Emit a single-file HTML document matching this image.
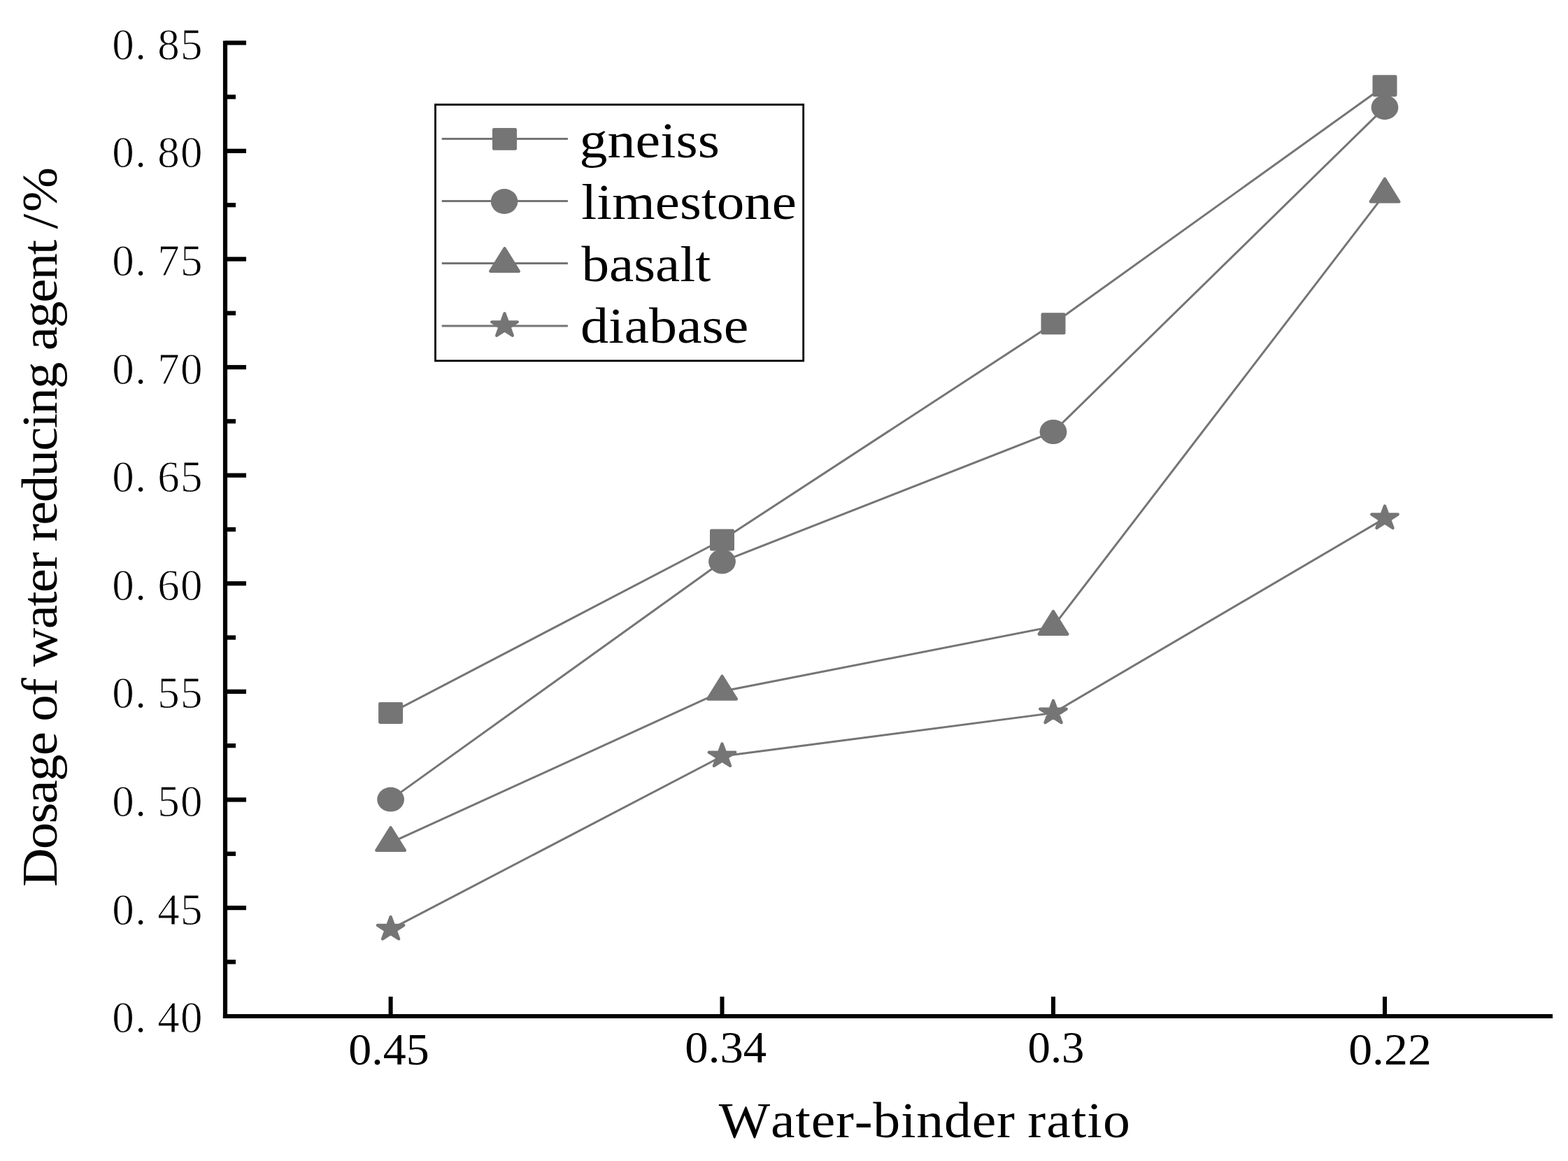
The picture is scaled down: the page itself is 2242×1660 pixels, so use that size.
<!DOCTYPE html>
<html><head><meta charset="utf-8"><title>Dosage of water reducing agent</title>
<style>
html,body{margin:0;padding:0;background:#fff;}
body{width:2242px;height:1660px;overflow:hidden;}
svg{display:block;}
text{font-family:"Liberation Serif",serif;fill:#000;font-kerning:none;}
</style></head><body>
<svg width="2242" height="1660" viewBox="0 0 2242 1660">
<rect width="2242" height="1660" fill="#fff"/>

<polyline points="558.60,1019.42 1032.50,772.06 1506.00,462.86 1980.00,122.74" fill="none" stroke="#757575" stroke-width="3"/>
<polyline points="558.60,1143.10 1032.50,802.98 1506.00,617.46 1980.00,153.66" fill="none" stroke="#757575" stroke-width="3"/>
<polyline points="558.60,1204.94 1032.50,988.50 1506.00,895.74 1980.00,277.34" fill="none" stroke="#757575" stroke-width="3"/>
<polyline points="558.60,1328.62 1032.50,1081.26 1506.00,1019.42 1980.00,741.14" fill="none" stroke="#757575" stroke-width="3"/>
<rect x="543.25" y="1006.07" width="30.70" height="26.70" fill="#757575" stroke="#757575" stroke-width="4.3" stroke-linejoin="round"/>
<rect x="1017.15" y="758.71" width="30.70" height="26.70" fill="#757575" stroke="#757575" stroke-width="4.3" stroke-linejoin="round"/>
<rect x="1490.65" y="449.51" width="30.70" height="26.70" fill="#757575" stroke="#757575" stroke-width="4.3" stroke-linejoin="round"/>
<rect x="1964.65" y="109.39" width="30.70" height="26.70" fill="#757575" stroke="#757575" stroke-width="4.3" stroke-linejoin="round"/>
<ellipse cx="558.60" cy="1143.10" rx="19.4" ry="17.5" fill="#757575"/>
<ellipse cx="1032.50" cy="802.98" rx="19.4" ry="17.5" fill="#757575"/>
<ellipse cx="1506.00" cy="617.46" rx="19.4" ry="17.5" fill="#757575"/>
<ellipse cx="1980.00" cy="153.66" rx="19.4" ry="17.5" fill="#757575"/>
<path d="M558.60 1183.29 L578.90 1215.94 L538.30 1215.94 Z" fill="#757575" stroke="#757575" stroke-width="4.3" stroke-linejoin="round"/>
<path d="M1032.50 966.85 L1052.80 999.50 L1012.20 999.50 Z" fill="#757575" stroke="#757575" stroke-width="4.3" stroke-linejoin="round"/>
<path d="M1506.00 874.09 L1526.30 906.74 L1485.70 906.74 Z" fill="#757575" stroke="#757575" stroke-width="4.3" stroke-linejoin="round"/>
<path d="M1980.00 255.69 L2000.30 288.34 L1959.70 288.34 Z" fill="#757575" stroke="#757575" stroke-width="4.3" stroke-linejoin="round"/>
<path d="M558.60 1310.92 L563.02 1322.94 L577.34 1322.94 L565.76 1330.37 L570.18 1342.40 L558.60 1334.97 L547.02 1342.40 L551.44 1330.37 L539.86 1322.94 L554.18 1322.94 Z" fill="#757575" stroke="#757575" stroke-width="4.3" stroke-linejoin="round"/>
<path d="M1032.50 1063.56 L1036.92 1075.58 L1051.24 1075.58 L1039.66 1083.01 L1044.08 1095.04 L1032.50 1087.61 L1020.92 1095.04 L1025.34 1083.01 L1013.76 1075.58 L1028.08 1075.58 Z" fill="#757575" stroke="#757575" stroke-width="4.3" stroke-linejoin="round"/>
<path d="M1506.00 1001.72 L1510.42 1013.74 L1524.74 1013.74 L1513.16 1021.17 L1517.58 1033.20 L1506.00 1025.77 L1494.42 1033.20 L1498.84 1021.17 L1487.26 1013.74 L1501.58 1013.74 Z" fill="#757575" stroke="#757575" stroke-width="4.3" stroke-linejoin="round"/>
<path d="M1980.00 723.44 L1984.42 735.46 L1998.74 735.46 L1987.16 742.89 L1991.58 754.92 L1980.00 747.49 L1968.42 754.92 L1972.84 742.89 L1961.26 735.46 L1975.58 735.46 Z" fill="#757575" stroke="#757575" stroke-width="4.3" stroke-linejoin="round"/>
<g fill="#000">
<rect x="318.90" y="58.3" width="6.2" height="1397.70"/>
<rect x="318.90" y="1450.00" width="1901.10" height="6"/>
<rect x="322.00" y="1372.20" width="15.00" height="6.3"/>
<rect x="322.00" y="1294.90" width="30.00" height="6.3"/>
<rect x="322.00" y="1217.60" width="15.00" height="6.3"/>
<rect x="322.00" y="1140.30" width="30.00" height="6.3"/>
<rect x="322.00" y="1063.00" width="15.00" height="6.3"/>
<rect x="322.00" y="985.70" width="30.00" height="6.3"/>
<rect x="322.00" y="908.40" width="15.00" height="6.3"/>
<rect x="322.00" y="831.10" width="30.00" height="6.3"/>
<rect x="322.00" y="753.80" width="15.00" height="6.3"/>
<rect x="322.00" y="676.50" width="30.00" height="6.3"/>
<rect x="322.00" y="599.20" width="15.00" height="6.3"/>
<rect x="322.00" y="521.90" width="30.00" height="6.3"/>
<rect x="322.00" y="444.60" width="15.00" height="6.3"/>
<rect x="322.00" y="367.30" width="30.00" height="6.3"/>
<rect x="322.00" y="290.00" width="15.00" height="6.3"/>
<rect x="322.00" y="212.70" width="30.00" height="6.3"/>
<rect x="322.00" y="135.40" width="15.00" height="6.3"/>
<rect x="322.00" y="58.10" width="30.00" height="6.3"/>
<rect x="555.60" y="1425" width="6" height="28.00"/>
<rect x="1029.50" y="1425" width="6" height="28.00"/>
<rect x="1503.00" y="1425" width="6" height="28.00"/>
<rect x="1977.00" y="1425" width="6" height="28.00"/>
</g>
<text x="176.00 201.00 241.10 273.80" y="1476.20" font-size="63.0" text-anchor="middle" stroke="#fff" stroke-width="0.9">0.40</text>
<text x="176.00 201.00 241.10 273.80" y="1321.60" font-size="63.0" text-anchor="middle" stroke="#fff" stroke-width="0.9">0.45</text>
<text x="176.00 201.00 241.10 273.80" y="1167.00" font-size="63.0" text-anchor="middle" stroke="#fff" stroke-width="0.9">0.50</text>
<text x="176.00 201.00 241.10 273.80" y="1012.40" font-size="63.0" text-anchor="middle" stroke="#fff" stroke-width="0.9">0.55</text>
<text x="176.00 201.00 241.10 273.80" y="857.80" font-size="63.0" text-anchor="middle" stroke="#fff" stroke-width="0.9">0.60</text>
<text x="176.00 201.00 241.10 273.80" y="703.20" font-size="63.0" text-anchor="middle" stroke="#fff" stroke-width="0.9">0.65</text>
<text x="176.00 201.00 241.10 273.80" y="548.60" font-size="63.0" text-anchor="middle" stroke="#fff" stroke-width="0.9">0.70</text>
<text x="176.00 201.00 241.10 273.80" y="394.00" font-size="63.0" text-anchor="middle" stroke="#fff" stroke-width="0.9">0.75</text>
<text x="176.00 201.00 241.10 273.80" y="239.40" font-size="63.0" text-anchor="middle" stroke="#fff" stroke-width="0.9">0.80</text>
<text x="176.00 201.00 241.10 273.80" y="84.80" font-size="63.0" text-anchor="middle" stroke="#fff" stroke-width="0.9">0.85</text>
<text transform="translate(498.29 1521.80) scale(1.0466 1)" font-size="63.0">0.45</text>
<text transform="translate(979.36 1519.00) scale(1.0593 1)" font-size="63.0">0.34</text>
<text transform="translate(1469.50 1519.00) scale(1.0290 1)" font-size="63.0">0.3</text>
<text transform="translate(1928.22 1521.80) scale(1.0759 1)" font-size="63.0">0.22</text>
<text transform="translate(1027.82 1626.10) scale(1.0800 1)" x="0.00 68.68 101.36 122.09 154.77 179.47 204.17 240.89 261.62 298.34 335.06 367.75 392.44 408.72 433.65 466.56 487.52 508.48" y="0" font-size="72.0">Water-binder ratio</text>
<text transform="translate(80.70 1268.12) rotate(-90) scale(1.0700 1)" x="-0.00 50.30 84.61 110.94 141.20 175.51 205.78 220.83 255.23 277.60 294.34 344.65 374.91 393.23 423.50 445.78 461.29 483.61 513.90 548.25 582.59 612.89 631.23 665.58 699.92 716.74 746.74 780.78 810.78 844.83 862.88 879.36 901.66" y="0" font-size="72.0">Dosage of water reducing agent /%</text>
<rect x="622.5" y="149.6" width="526.20" height="366.30" fill="#fff" stroke="#000" stroke-width="2.8"/>
<line x1="631.7" y1="198.4" x2="811.9" y2="198.4" stroke="#757575" stroke-width="3"/>
<rect x="706.15" y="185.10" width="30.70" height="27.60" fill="#757575" stroke="#757575" stroke-width="4.3" stroke-linejoin="round"/>
<text transform="translate(828.45 224.70) scale(1.1136 1)" font-size="72.0">gneiss</text>
<line x1="631.7" y1="287.5" x2="811.9" y2="287.5" stroke="#757575" stroke-width="3"/>
<ellipse cx="721.10" cy="288.00" rx="19.25" ry="17.95" fill="#757575"/>
<text transform="translate(831.37 313.10) scale(1.0987 1)" font-size="72.0">limestone</text>
<line x1="631.7" y1="376.5" x2="811.9" y2="376.5" stroke="#757575" stroke-width="3"/>
<path d="M721.50 355.15 L741.80 387.80 L701.20 387.80 Z" fill="#757575" stroke="#757575" stroke-width="4.3" stroke-linejoin="round"/>
<text transform="translate(831.40 401.60) scale(1.1008 1)" font-size="72.0">basalt</text>
<line x1="631.7" y1="466.0" x2="811.9" y2="466.0" stroke="#757575" stroke-width="3"/>
<path d="M721.50 448.30 L725.82 460.32 L739.80 460.32 L728.49 467.75 L732.81 479.78 L721.50 472.35 L710.19 479.78 L714.51 467.75 L703.20 460.32 L717.18 460.32 Z" fill="#757575" stroke="#757575" stroke-width="4.3" stroke-linejoin="round"/>
<text transform="translate(830.05 490.00) scale(1.1132 1)" font-size="72.0">diabase</text>
</svg></body></html>
